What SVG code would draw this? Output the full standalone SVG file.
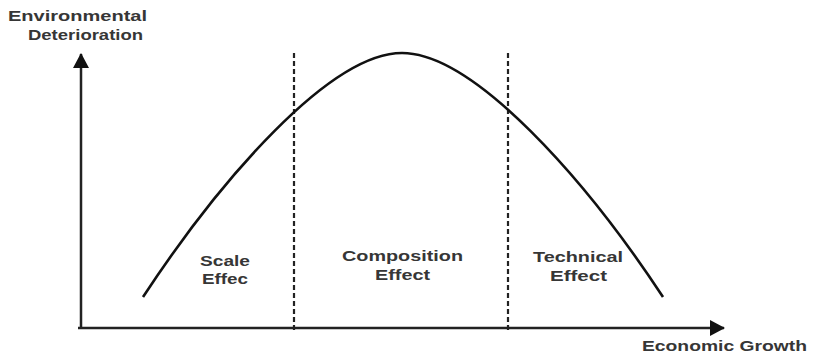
<svg xmlns="http://www.w3.org/2000/svg" width="817" height="356" viewBox="0 0 817 356">
  <style>
    .lbl { font-family: "Liberation Sans", Arial, sans-serif; font-weight: bold; fill: #363636; }
    .ax { font-size: 14px; }
    .rg { font-size: 15.5px; }
    .axis { stroke: #222; stroke-width: 2.5; fill: none; }
    .dash { stroke: #222; stroke-width: 2.2; stroke-dasharray: 5 3; fill: none; }
    .curve { stroke: #111; stroke-width: 2.6; fill: none; }
  </style>
  <defs>
    <marker id="arrow" markerUnits="userSpaceOnUse" markerWidth="16" markerHeight="18" refX="14" refY="8" orient="auto">
      <path d="M0,0 L15,8 L0,16 Z" fill="#111"/>
    </marker>
  </defs>
  <rect width="817" height="356" fill="#fff"/>
  <g id="connectors">
    <path id="y-axis" class="axis" d="M81,329 L81,54" marker-end="url(#arrow)"/>
    <path id="x-axis" class="axis" d="M78,328 L724,328" marker-end="url(#arrow)"/>
    <path id="div-left" class="dash" d="M294,53 L294,331"/>
    <path id="div-right" class="dash" d="M508,53 L508,331"/>
    <path id="ekc-curve" class="curve" d="M143,297 C220,180 330,53 402,53 C474,53 586,180 663,297"/>
  </g>
  <g id="y-label">
    <text class="lbl ax" x="8" y="21" textLength="139" lengthAdjust="spacingAndGlyphs">Environmental</text>
    <text class="lbl ax" x="28" y="40" textLength="115" lengthAdjust="spacingAndGlyphs">Deterioration</text>
  </g>
  <g id="x-label">
    <text class="lbl ax" x="642" y="351" textLength="165" lengthAdjust="spacingAndGlyphs">Economic Growth</text>
  </g>
  <g id="scale-effect">
    <text class="lbl rg" x="200" y="266" textLength="50" lengthAdjust="spacingAndGlyphs">Scale</text>
    <text class="lbl rg" x="202" y="284" textLength="46" lengthAdjust="spacingAndGlyphs">Effec</text>
  </g>
  <g id="composition-effect">
    <text class="lbl rg" x="342" y="261" textLength="121" lengthAdjust="spacingAndGlyphs">Composition</text>
    <text class="lbl rg" x="375" y="280" textLength="55" lengthAdjust="spacingAndGlyphs">Effect</text>
  </g>
  <g id="technical-effect">
    <text class="lbl rg" x="533" y="262" textLength="90" lengthAdjust="spacingAndGlyphs">Technical</text>
    <text class="lbl rg" x="550" y="281" textLength="57" lengthAdjust="spacingAndGlyphs">Effect</text>
  </g>
</svg>
